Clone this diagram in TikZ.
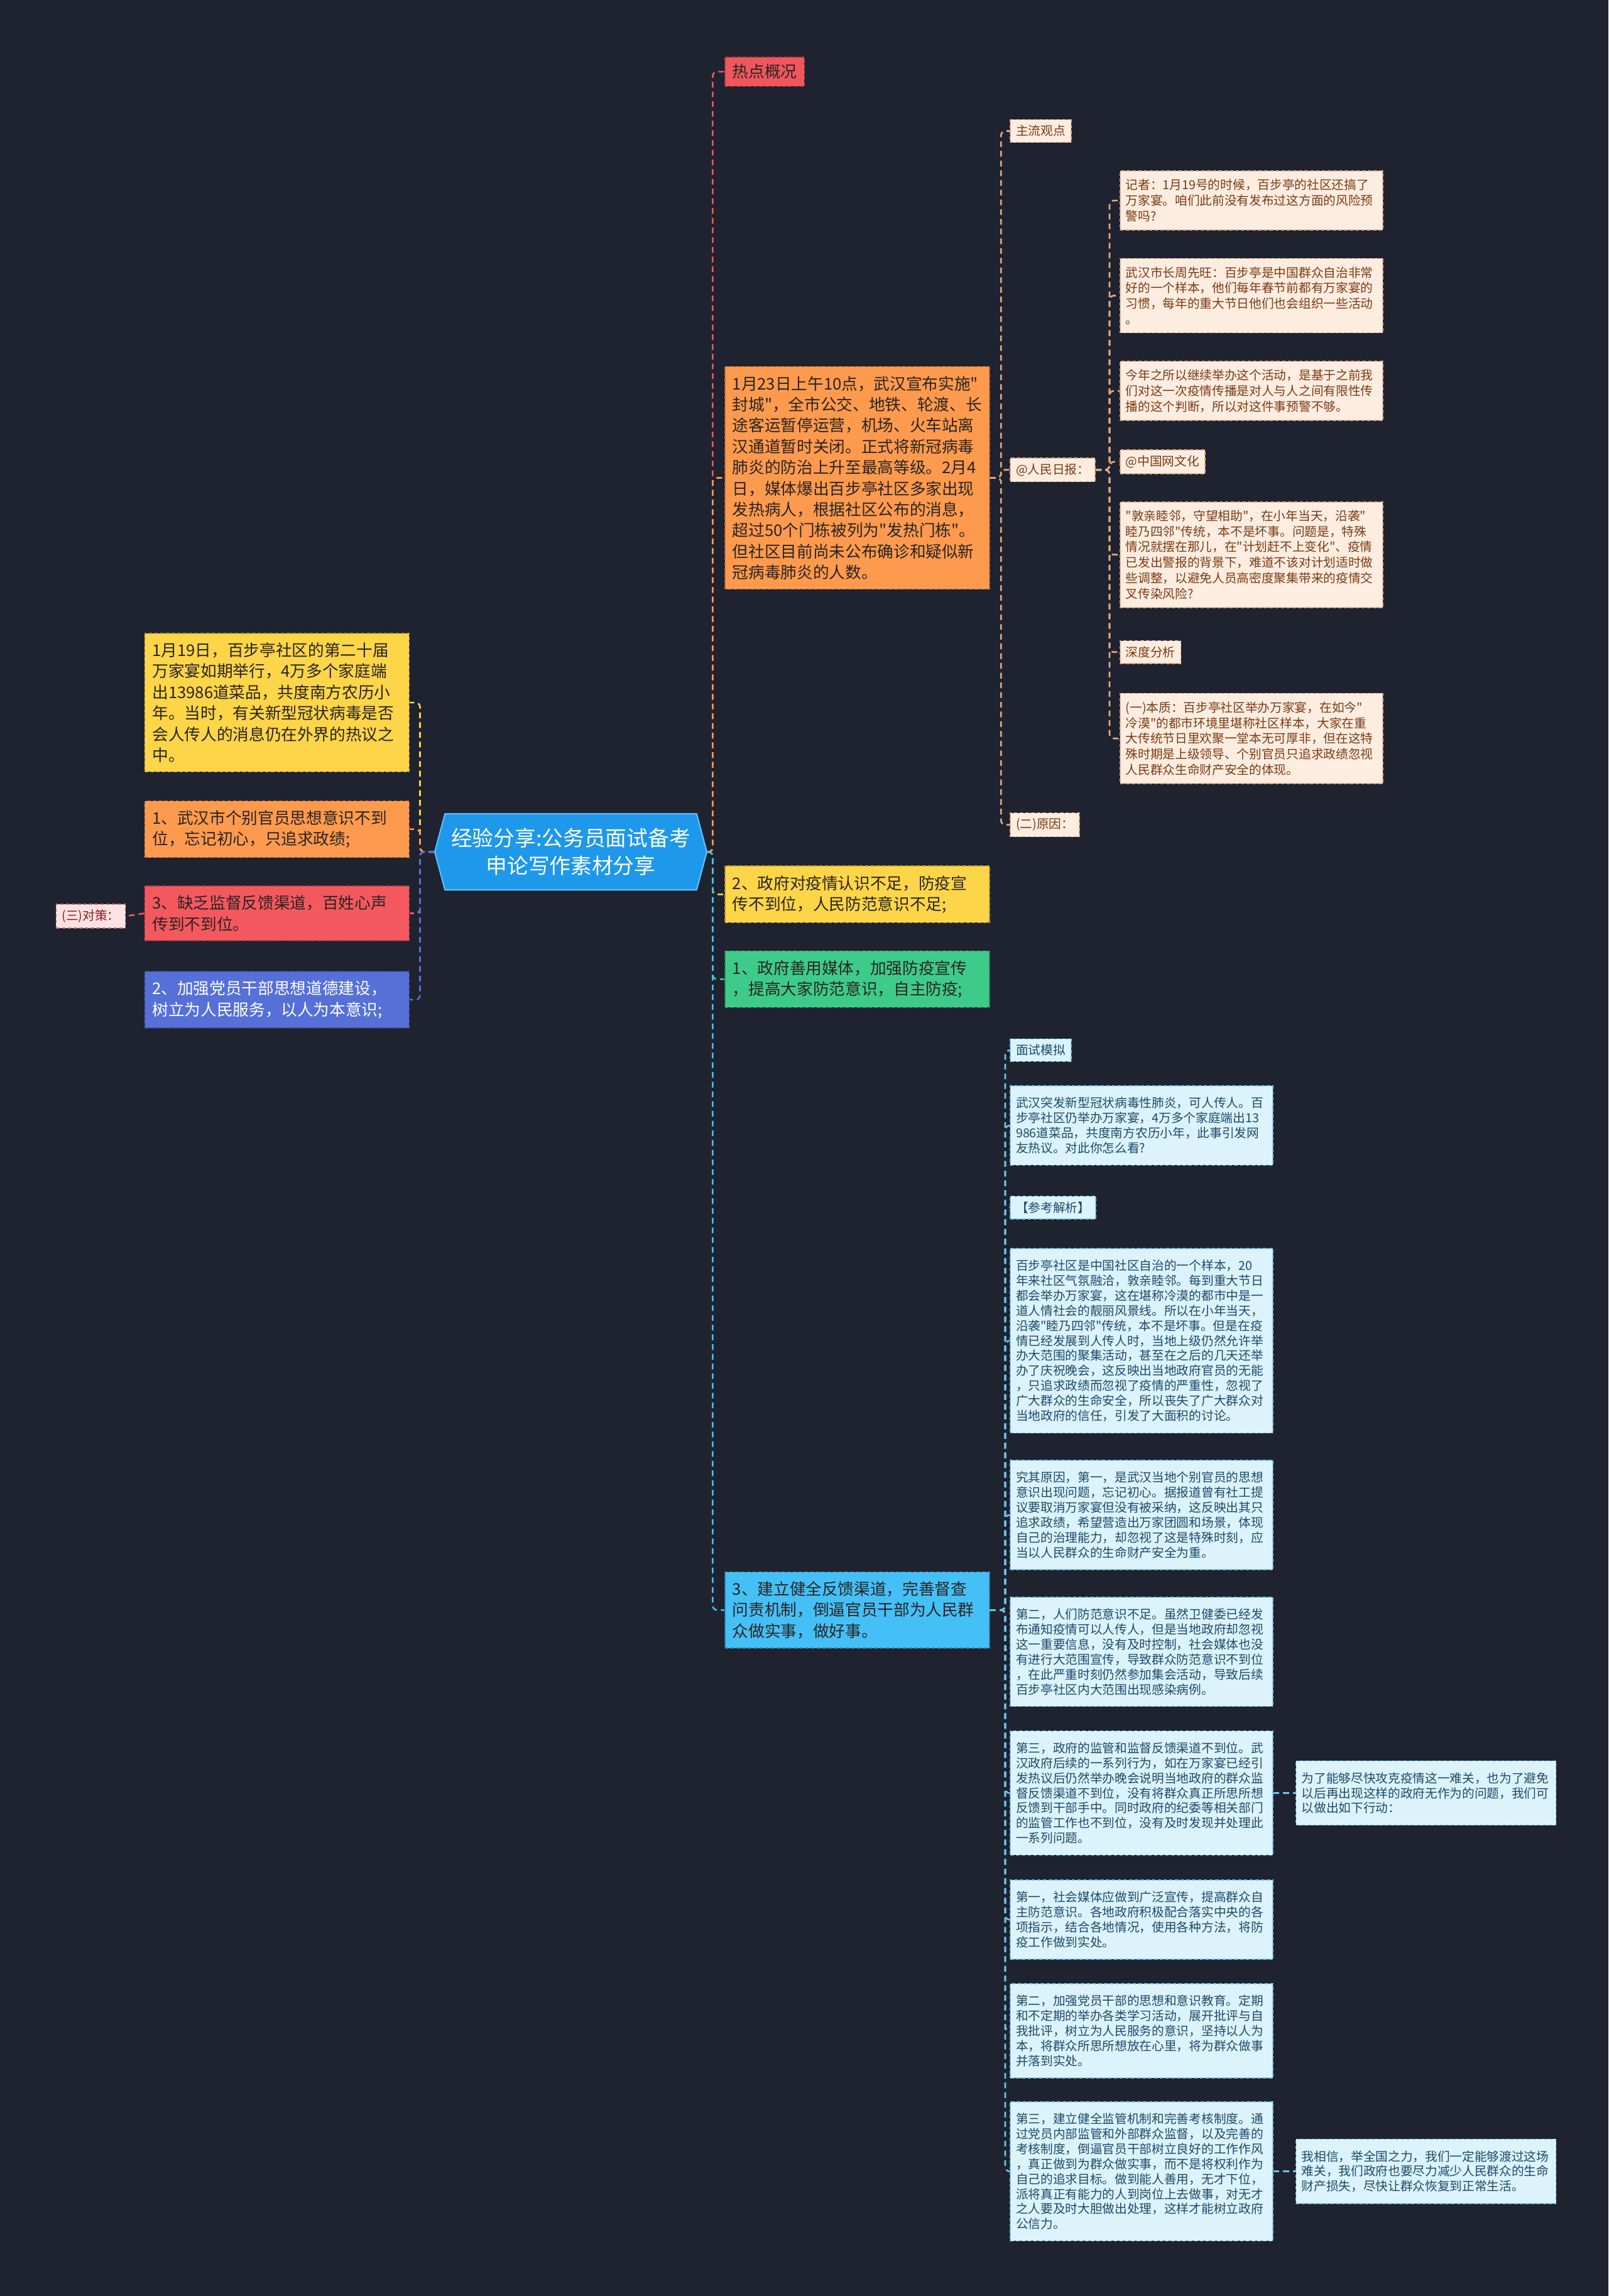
\documentclass[tikz,border=0pt]{standalone}
\usepackage{fontspec}
\usepackage{xcolor}
\usepackage{tikz}
\usetikzlibrary{shapes.symbols, positioning, calc}
\newfontfamily\cjk{Noto Sans CJK SC}

\definecolor{bgdark}{RGB}{31,35,48}
\definecolor{rootblue}{RGB}{30,152,234}
\definecolor{rootedge}{RGB}{95,192,250}
\definecolor{hotred}{RGB}{240,87,93}
\definecolor{mainorange}{RGB}{254,154,78}
\definecolor{mainyellow}{RGB}{253,213,72}
\definecolor{mainred}{RGB}{244,88,95}
\definecolor{mainindigo}{RGB}{86,112,216}
\definecolor{maingreen}{RGB}{62,203,138}
\definecolor{mainsky}{RGB}{69,192,247}
\definecolor{peachfill}{RGB}{253,237,225}
\definecolor{peachtext}{RGB}{122,59,18}
\definecolor{peachline}{RGB}{226,170,128}
\definecolor{icefill}{RGB}{220,243,252}
\definecolor{icetext}{RGB}{28,74,104}
\definecolor{iceline}{RGB}{110,196,236}
\definecolor{pinkfill}{RGB}{252,226,226}
\definecolor{pinktext}{RGB}{140,28,28}
\definecolor{inkdark}{RGB}{40,36,34}

\begin{document}
\begin{tikzpicture}[
    % all boxes: thin dashed outline, text set flush left
    box/.style={rectangle, draw, dash pattern=on 1.6pt off 1pt, line width=0.45pt, align=left, anchor=west},
    bigfont/.style={font=\cjk\fontsize{7.3}{9.5}\selectfont, text=inkdark, inner xsep=0.12cm, inner ysep=0.15cm},
    bigbox/.style={box, bigfont, text width=3.97cm},
    bigtag/.style={box, bigfont, inner ysep=0.115cm},
    small/.style={font=\cjk\fontsize{5.6}{7.05}\selectfont, inner xsep=0.09cm},
    peach/.style={fill=peachfill, draw=peachline, text=peachtext},
    ice/.style={fill=icefill, draw=iceline, text=icetext},
    tag/.style={box, small, inner ysep=0.09cm},
    note/.style={box, small, text width=4.0cm, inner ysep=0.13cm},
    icenote/.style={note, ice, font=\cjk\fontsize{5.6}{6.8}\selectfont, inner ysep=0.18cm},
    root/.style={signal, signal to=east and west, signal pointer angle=150, fill=rootblue, draw=rootedge, line width=0.6pt, text=white, align=center, font=\cjk\fontsize{9.6}{12.6}\selectfont, minimum width=4.33cm, minimum height=1.21cm, inner sep=0.1cm},
    link/.style={dash pattern=on 2.6pt off 1.8pt, line width=0.75pt, rounded corners=2pt}
]

% background, also fixes the page size
\fill[bgdark] (0,0) rectangle (25.6,-36.54);

% bus lines of the elbow connectors
\coordinate (busroot) at (11.344,0);
\coordinate (busleft) at (6.685,0);
\coordinate (businfo) at (15.933,0);
\coordinate (busrmrb) at (17.66,0);
\coordinate (bussky) at (16.0,0);

% =========================================================
% ROOT
% =========================================================
\node[root] (root) at (9.085,-13.557) {经验分享:公务员面试备考\\申论写作素材分享};

% =========================================================
% RIGHT BRANCHES
% =========================================================
\node[bigtag, fill=hotred, draw=hotred!70!black] (hot) at (11.53,-1.141) {热点概况};
\node[bigbox, fill=mainorange, draw=mainorange!70!black] (info) at (11.53,-7.605) {1月23日上午10点，武汉宣布实施"\\封城"，全市公交、地铁、轮渡、长\\途客运暂停运营，机场、火车站离\\汉通道暂时关闭。正式将新冠病毒\\肺炎的防治上升至最高等级。2月4\\日，媒体爆出百步亭社区多家出现\\发热病人，根据社区公布的消息，\\超过50个门栋被列为"发热门栋"。\\但社区目前尚未公布确诊和疑似新\\冠病毒肺炎的人数。};
\node[bigbox, fill=mainyellow, draw=mainyellow!70!black] (ryel) at (11.53,-14.233) {2、政府对疫情认识不足，防疫宣\\传不到位，人民防范意识不足;};
\node[bigbox, fill=maingreen, draw=maingreen!65!black] (rgrn) at (11.53,-15.584) {1、政府善用媒体，加强防疫宣传\\，提高大家防范意识，自主防疫;};
\node[bigbox, fill=mainsky, draw=mainsky!65!black] (rsky) at (11.53,-25.623) {3、建立健全反馈渠道，完善督查\\问责机制，倒逼官员干部为人民群\\众做实事，做好事。};

\draw[link, hotred] (root.east) -- (root.east -| busroot) |- (hot.west);
\draw[link, mainorange] (root.east) -- (root.east -| busroot) |- (info.west);
\draw[link, mainyellow] (root.east) -- (root.east -| busroot) |- (ryel.west);
\draw[link, maingreen] (root.east) -- (root.east -| busroot) |- (rgrn.west);
\draw[link, mainsky] (root.east) -- (root.east -| busroot) |- (rsky.west);

% ---------------------------------------------------------
% under the orange news box
% ---------------------------------------------------------
\node[tag, peach] (mainview) at (16.073,-2.085) {主流观点};
\node[tag, peach] (rmrb) at (16.073,-7.477) {@人民日报：};
\node[tag, peach] (reason) at (16.073,-13.126) {(二)原因：};

\draw[link, peachline] (info.east) -- (info.east -| businfo) |- (mainview.west);
\draw[link, peachline] (info.east) -- (info.east -| businfo) |- (rmrb.west);
\draw[link, peachline] (info.east) -- (info.east -| businfo) |- (reason.west);

\node[note, peach] (reporter) at (17.82,-3.191) {记者：1月19号的时候，百步亭的社区还搞了\\万家宴。咱们此前没有发布过这方面的风险预\\警吗?};
\node[note, peach] (mayor) at (17.82,-4.705) {武汉市长周先旺：百步亭是中国群众自治非常\\好的一个样本，他们每年春节前都有万家宴的\\习惯，每年的重大节日他们也会组织一些活动\\。};
\node[note, peach] (thisyear) at (17.82,-6.22) {今年之所以继续举办这个活动，是基于之前我\\们对这一次疫情传播是对人与人之间有限性传\\播的这个判断，所以对这件事预警不够。};
\node[tag, peach] (cnnet) at (17.82,-7.349) {@中国网文化};
\node[note, peach] (neighbor) at (17.82,-8.828) {"敦亲睦邻，守望相助"，在小年当天，沿袭"\\睦乃四邻"传统，本不是坏事。问题是，特殊\\情况就摆在那儿，在"计划赶不上变化"、疫情\\已发出警报的背景下，难道不该对计划适时做\\些调整，以避免人员高密度聚集带来的疫情交\\叉传染风险?};
\node[tag, peach] (depth) at (17.82,-10.378) {深度分析};
\node[note, peach] (essence) at (17.82,-11.752) {(一)本质：百步亭社区举办万家宴，在如今"\\冷漠"的都市环境里堪称社区样本，大家在重\\大传统节日里欢聚一堂本无可厚非，但在这特\\殊时期是上级领导、个别官员只追求政绩忽视\\人民群众生命财产安全的体现。};

\draw[link, peachline] (rmrb.east) -- (rmrb.east -| busrmrb) |- (reporter.west);
\draw[link, peachline] (rmrb.east) -- (rmrb.east -| busrmrb) |- (mayor.west);
\draw[link, peachline] (rmrb.east) -- (rmrb.east -| busrmrb) |- (thisyear.west);
\draw[link, peachline] (rmrb.east) -- (rmrb.east -| busrmrb) |- (cnnet.west);
\draw[link, peachline] (rmrb.east) -- (rmrb.east -| busrmrb) |- (neighbor.west);
\draw[link, peachline] (rmrb.east) -- (rmrb.east -| busrmrb) |- (depth.west);
\draw[link, peachline] (rmrb.east) -- (rmrb.east -| busrmrb) |- (essence.west);

% ---------------------------------------------------------
% under the sky blue box
% ---------------------------------------------------------
\node[tag, ice] (sim) at (16.073,-16.714) {面试模拟};
\node[icenote] (simq) at (16.073,-17.913) {武汉突发新型冠状病毒性肺炎，可人传人。百\\步亭社区仍举办万家宴，4万多个家庭端出13\\986道菜品，共度南方农历小年，此事引发网\\友热议。对此你怎么看?};
\node[tag, ice] (refhead) at (16.073,-19.218) {【参考解析】};
\node[icenote] (refa) at (16.073,-21.337) {百步亭社区是中国社区自治的一个样本，20\\年来社区气氛融洽，敦亲睦邻。每到重大节日\\都会举办万家宴，这在堪称冷漠的都市中是一\\道人情社会的靓丽风景线。所以在小年当天，\\沿袭"睦乃四邻"传统，本不是坏事。但是在疫\\情已经发展到人传人时，当地上级仍然允许举\\办大范围的聚集活动，甚至在之后的几天还举\\办了庆祝晚会，这反映出当地政府官员的无能\\，只追求政绩而忽视了疫情的严重性，忽视了\\广大群众的生命安全，所以丧失了广大群众对\\当地政府的信任，引发了大面积的讨论。};
\node[icenote] (cause1) at (16.073,-24.109) {究其原因，第一，是武汉当地个别官员的思想\\意识出现问题，忘记初心。据报道曾有社工提\\议要取消万家宴但没有被采纳，这反映出其只\\追求政绩，希望营造出万家团圆和场景，体现\\自己的治理能力，却忽视了这是特殊时刻，应\\当以人民群众的生命财产安全为重。};
\node[icenote] (cause2) at (16.073,-26.287) {第二，人们防范意识不足。虽然卫健委已经发\\布通知疫情可以人传人，但是当地政府却忽视\\这一重要信息，没有及时控制，社会媒体也没\\有进行大范围宣传，导致群众防范意识不到位\\，在此严重时刻仍然参加集会活动，导致后续\\百步亭社区内大范围出现感染病例。};
\node[icenote] (cause3) at (16.073,-28.535) {第三，政府的监管和监督反馈渠道不到位。武\\汉政府后续的一系列行为，如在万家宴已经引\\发热议后仍然举办晚会说明当地政府的群众监\\督反馈渠道不到位，没有将群众真正所思所想\\反馈到干部手中。同时政府的纪委等相关部门\\的监管工作也不到位，没有及时发现并处理此\\一系列问题。};
\node[icenote] (act1) at (16.073,-30.55) {第一，社会媒体应做到广泛宣传，提高群众自\\主防范意识。各地政府积极配合落实中央的各\\项指示，结合各地情况，使用各种方法，将防\\疫工作做到实处。};
\node[icenote] (act2) at (16.073,-32.32) {第二，加强党员干部的思想和意识教育。定期\\和不定期的举办各类学习活动，展开批评与自\\我批评，树立为人民服务的意识，坚持以人为\\本，将群众所思所想放在心里，将为群众做事\\并落到实处。};
\node[icenote] (act3) at (16.073,-34.556) {第三，建立健全监管机制和完善考核制度。通\\过党员内部监管和外部群众监督，以及完善的\\考核制度，倒逼官员干部树立良好的工作作风\\，真正做到为群众做实事，而不是将权利作为\\自己的追求目标。做到能人善用，无才下位，\\派将真正有能力的人到岗位上去做事，对无才\\之人要及时大胆做出处理，这样才能树立政府\\公信力。};

\node[icenote, text width=3.96cm, right=0.35cm of cause3] (plan) {为了能够尽快攻克疫情这一难关，也为了避免\\以后再出现这样的政府无作为的问题，我们可\\以做出如下行动：};
\node[icenote, text width=3.96cm, right=0.35cm of act3] (belief) {我相信，举全国之力，我们一定能够渡过这场\\难关，我们政府也要尽力减少人民群众的生命\\财产损失，尽快让群众恢复到正常生活。};

\draw[link, iceline] (rsky.east) -- (rsky.east -| bussky) |- (sim.west);
\draw[link, iceline] (rsky.east) -- (rsky.east -| bussky) |- (simq.west);
\draw[link, iceline] (rsky.east) -- (rsky.east -| bussky) |- (refhead.west);
\draw[link, iceline] (rsky.east) -- (rsky.east -| bussky) |- (refa.west);
\draw[link, iceline] (rsky.east) -- (rsky.east -| bussky) |- (cause1.west);
\draw[link, iceline] (rsky.east) -- (rsky.east -| bussky) |- (cause2.west);
\draw[link, iceline] (rsky.east) -- (rsky.east -| bussky) |- (cause3.west);
\draw[link, iceline] (rsky.east) -- (rsky.east -| bussky) |- (act1.west);
\draw[link, iceline] (rsky.east) -- (rsky.east -| bussky) |- (act2.west);
\draw[link, iceline] (rsky.east) -- (rsky.east -| bussky) |- (act3.west);
\draw[link, iceline] (cause3.east) -- (plan.west);
\draw[link, iceline] (act3.east) -- (belief.west);

% =========================================================
% LEFT BRANCHES
% =========================================================
\node[bigbox, anchor=east, fill=mainyellow, draw=mainyellow!70!black] (lyel) at (6.522,-11.181) {1月19日，百步亭社区的第二十届\\万家宴如期举行，4万多个家庭端\\出13986道菜品，共度南方农历小\\年。当时，有关新型冠状病毒是否\\会人传人的消息仍在外界的热议之\\中。};
\node[bigbox, anchor=east, fill=mainorange, draw=mainorange!70!black] (lorg) at (6.522,-13.196) {1、武汉市个别官员思想意识不到\\位，忘记初心，只追求政绩;};
\node[bigbox, anchor=east, fill=mainred, draw=mainred!70!black] (lred) at (6.522,-14.535) {3、缺乏监督反馈渠道，百姓心声\\传到不到位。};
\node[bigbox, anchor=east, fill=mainindigo, draw=mainindigo!70!black, text=white] (lind) at (6.522,-15.91) {2、加强党员干部思想道德建设，\\树立为人民服务，以人为本意识;};
\node[tag, anchor=east, fill=pinkfill, draw=pinktext!60, text=pinktext] (measure) at (2.003,-14.58) {(三)对策：};

\draw[link, mainyellow] (root.west) -- (root.west -| busleft) |- (lyel.east);
\draw[link, mainorange] (root.west) -- (root.west -| busleft) |- (lorg.east);
\draw[link, mainred] (root.west) -- (root.west -| busleft) |- (lred.east);
\draw[link, mainindigo] (root.west) -- (root.west -| busleft) |- (lind.east);
\draw[link, mainred] (lred.west) -- (measure.east);

\end{tikzpicture}
\end{document}
